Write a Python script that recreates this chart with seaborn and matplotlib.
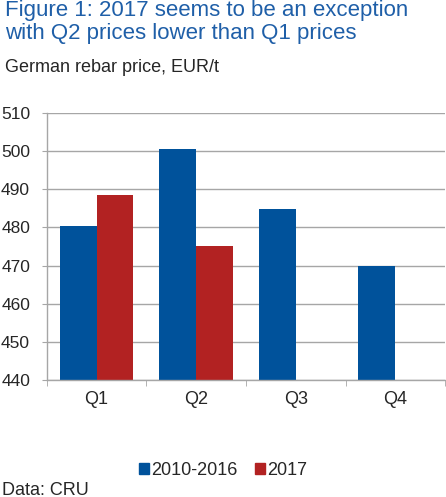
import numpy as np
import pandas as pd
import matplotlib
matplotlib.use('agg')
import matplotlib.pyplot as plt
import seaborn as sns

# values
quarters = ['Q1', 'Q2', 'Q3', 'Q4']
precio_2010_2016 = [480.3, 500.7, 484.8, 469.9]
precio_2017 = [488.4, 475.1, np.nan, np.nan]
series = ['2010-2016', '2017']
y_ticks = [440, 450, 460, 470, 480, 490, 500, 510]

azul = '#00529B'
rojo = '#B22222'
gris = '#A6A6A6'

df = pd.DataFrame({
    'quarter': quarters * 2,
    'serie': [series[0]] * 4 + [series[1]] * 4,
    'precio': precio_2010_2016 + precio_2017,
})

sns.set_style('white')
plt.rcParams['font.family'] = ['Liberation Sans', 'DejaVu Sans']

fig = plt.figure(figsize=(4.46, 4.97), dpi=100)
ax = fig.add_axes([0.105, 0.2354, 0.893, 0.537])

sns.barplot(data=df, x='quarter', y='precio', hue='serie', order=quarters,
            hue_order=series, palette=[azul, rojo], width=0.74, saturation=1,
            errorbar=None, ax=ax, legend=False, linewidth=0)

ax.set_ylim(440, 510)
ax.set_yticks(y_ticks)
ax.set_yticklabels([str(v) for v in y_ticks], fontsize=12.5)
ax.set_xlim(-0.5, 3.5)
ax.yaxis.grid(True, color=gris, linewidth=1)
ax.set_axisbelow(True)
ax.set_xlabel('')
ax.set_ylabel('')
for lado in ['top', 'right']:
    ax.spines[lado].set_visible(False)
for lado in ['left', 'bottom']:
    ax.spines[lado].set_color(gris)
    ax.spines[lado].set_linewidth(1)

ax.tick_params(axis='y', length=3.6, color=gris, direction='out', pad=8.5, left=True)
ax.tick_params(axis='x', which='major', length=0, labelsize=13, pad=8)
ax.set_xticks(np.arange(-0.5, 4.0, 1.0), minor=True)
ax.tick_params(axis='x', which='minor', length=4, color=gris, direction='out', bottom=True)

fig.text(0.012, 1.0, 'Figure 1: 2017 seems to be an exception\nwith Q2 prices lower than Q1 prices',
         color='#1F5FA8', fontsize=16, va='top', ha='left', linespacing=1.1)
fig.text(0.012, 0.864, 'German rebar price, EUR/t', fontsize=13, va='center', ha='left')

handles = [plt.Rectangle((0, 0), 1, 1, color=azul), plt.Rectangle((0, 0), 1, 1, color=rojo)]
fig.legend(handles, series, loc='center', bbox_to_anchor=(0.5, 0.053), ncol=2, frameon=False,
           fontsize=13, handlelength=0.55, handleheight=0.55, handletextpad=0.1, columnspacing=1.0)
fig.text(0.005, 0.014, 'Data: CRU', fontsize=13, va='center', ha='left')

plt.savefig('out.png', dpi=100)
plt.close()
